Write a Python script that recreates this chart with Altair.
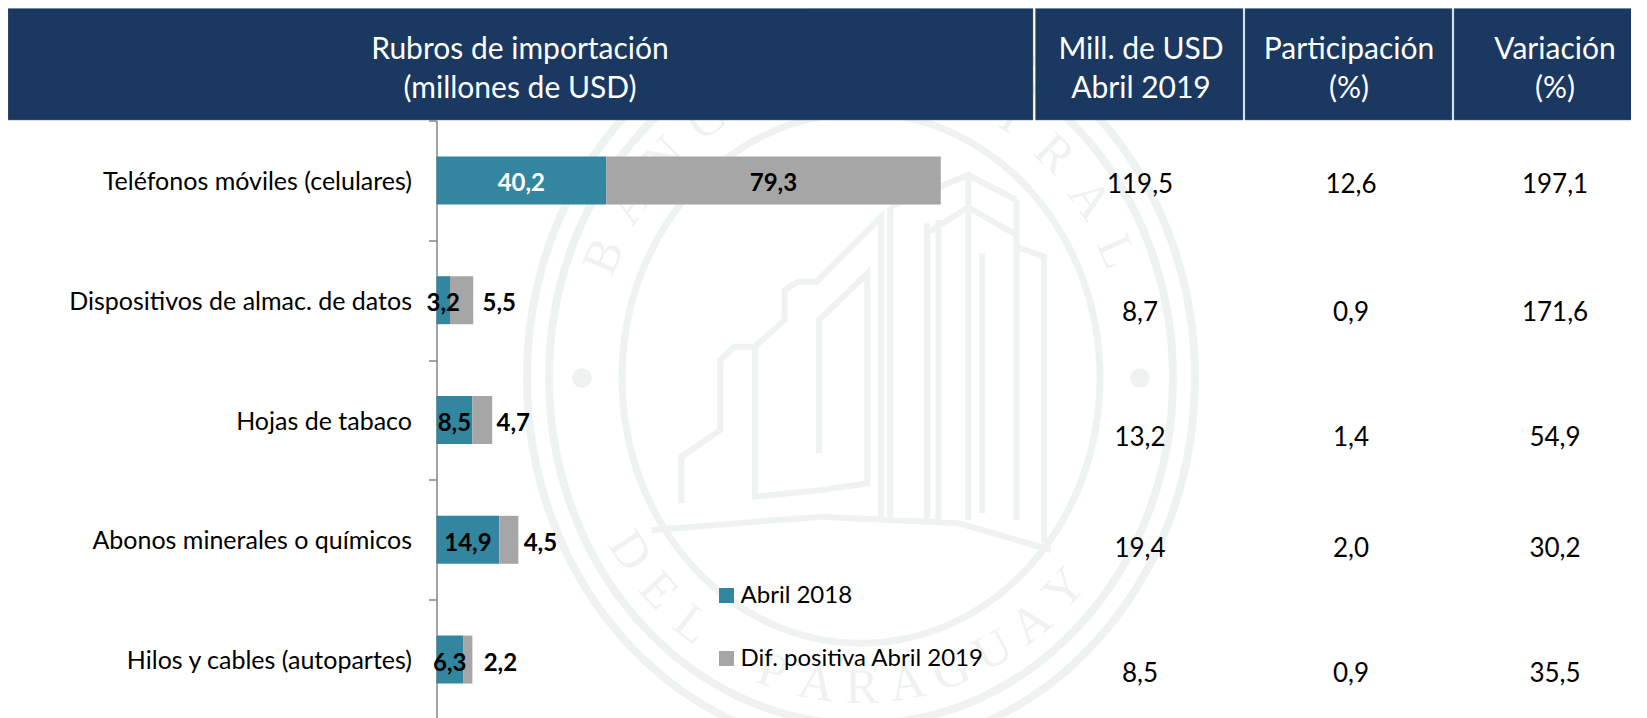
import math
import altair as alt
import pandas as pd

# ---------- values ----------
categories = ["Teléfonos móviles (celulares)", "Dispositivos de almac. de datos", "Hojas de tabaco",
              "Abonos minerales o químicos", "Hilos y cables (autopartes)"]
abril_2018 = [40.2, 3.2, 8.5, 14.9, 6.3]
dif_2019 = [79.3, 5.5, 4.7, 4.5, 2.2]
mill_usd = ["119,5", "8,7", "13,2", "19,4", "8,5"]
participacion = ["12,6", "0,9", "1,4", "2,0", "0,9"]
variacion = ["197,1", "171,6", "54,9", "30,2", "35,5"]
series_names = ["Abril 2018", "Dif. positiva Abril 2019"]
header_titles = [["Rubros de importación", "(millones de USD)"], ["Mill. de USD", "Abril 2019"],
                 ["Participación", "(%)"], ["Variación", "(%)"]]

# ---------- layout (page pixels) ----------
OX, OY = 436.5, 120.5
PX = lambda x: x - OX
PY = lambda y: y - OY
FONT = "Lato"
NAVY, TEAL, GREY = "#1A3860", "#33869F", "#A6A6A6"
WM = "#EEF3F1"
HEADER_EDGES = [(8, 1033), (1035.5, 1243), (1245, 1452), (1454, 1647)]
HEADER_CENTERS = [520, 1141, 1349, 1555]
TABLE_CENTERS = [1140, 1351, 1555]
TABLE_NUDGE = [5, 13, 18, 9, 14]
OUT_NUDGE = [0, 26, 21, 22, 28]
PX_PER_UNIT = 4.22
W, H = 1639 - OX, 718 - OY

rows = []
for c, a, d in zip(categories, abril_2018, dif_2019):
    rows.append(dict(cat=c, serie=series_names[0], start=0, end=a))
    rows.append(dict(cat=c, serie=series_names[1], start=a, end=a + d))
df = pd.DataFrame(rows)
fmt = lambda v: f"{v:.1f}".replace(".", ",")
lab = pd.DataFrame(dict(cat=categories, a=abril_2018, d=dif_2019))
lab["mid_a"] = lab.a / 2
lab["mid_d"] = lab.a + lab.d / 2
lab["total"] = lab.a + lab.d
lab["ta"] = lab.a.map(fmt)
lab["td"] = lab.d.map(fmt)

xs = alt.Scale(domain=[0, W / PX_PER_UNIT], range=[0, W], nice=False, zero=False)
ys = alt.Scale(domain=categories, range=[0, 599], paddingInner=0.6, paddingOuter=0.3)
X = lambda f: alt.X(f, type="quantitative", scale=xs, axis=None)
y_axis = alt.Axis(labelFont=FONT, labelFontSize=25, labelColor="black", labelPadding=17, tickOffset=-59.9,
                  labelOffset=60.9, tickSize=8, tickColor="#868686", tickWidth=1.5, domainColor="#868686",
                  domainWidth=1.5, grid=False, labelLimit=400, title=None)
Y_plain = alt.Y("cat:N", scale=ys, sort=categories, axis=y_axis, title=None)

# ---------- seal watermark ----------
CX, CY = 861, 378
def ell(a, k=1.11):
    b = a * k
    return f"M{-a},0A{a} {b} 0 1 1 {a},0A{a} {b} 0 1 1 {-a},0Z"
def z(x, y):
    return (500 + x / 2.178 - CX, 120 + y / 3 - CY)
def poly(*pts):
    return "M" + "L".join("%.1f,%.1f" % z(*p) for p in pts)
BASE = 1200
building = " ".join([
    poly((395, 1150), (395, 1010), (480, 930), (480, 720), (510, 680), (555, 680), (620, 600), (620, 510),
         (650, 485), (690, 485), (830, 290), (830, BASE)),
    poly((555, 680), (555, 1130), (700, 1110), (800, 1090), (800, 460), (695, 600), (695, 1000)),
    poly((850, 260), (850, BASE)), poly((930, 310), (930, BASE)), poly((955, 300), (955, BASE)),
    poly((850, 260), (1020, 165), (1125, 240)), poly((930, 340), (1020, 262), (1125, 345)),
    poly((1020, 165), (1020, BASE)), poly((1125, 240), (1125, BASE)),
    poly((1125, 380), (1185, 410), (1185, 1270)),
    poly((1050, 400), (1050, 1180)),
    poly((330, 1230), (700, 1190), (1000, 1210), (1200, 1290)),
])
blank = pd.DataFrame({"k": [0]})
layers = []
for a, sw in [(334, 8), (312, 8), (239, 7)]:
    layers.append(alt.Chart(blank).mark_point(shape=ell(a), size=4, filled=False, stroke=WM,
                  strokeWidth=sw, opacity=1).encode(x=alt.value(PX(CX)), y=alt.value(PY(CY))))
layers.append(alt.Chart(blank).mark_point(shape=building, size=4, filled=False, stroke=WM,
              strokeWidth=6, opacity=1).encode(x=alt.value(PX(CX)), y=alt.value(PY(CY))))
for dx in (-279, 279):
    layers.append(alt.Chart(blank).mark_point(shape="circle", size=380, filled=True, color=WM,
                  opacity=1).encode(x=alt.value(PX(CX + dx)), y=alt.value(PY(CY))))
def letter(ch, px, py, ang):
    return alt.Chart(blank).mark_text(text=ch, font="Liberation Serif", fontSize=50, color=WM, angle=ang % 360,
            align="center", baseline="middle").encode(x=alt.value(PX(px)), y=alt.value(PY(py)))
top_word, bot_word = "BANCO CENTRAL", "DEL PARAGUAY"
for i, ch in enumerate(top_word):
    t = -67 + i * 133 / (len(top_word) - 1)
    r = math.radians(t)
    if ch != " ":
        layers.append(letter(ch, CX + 279 * math.sin(r), CY - 310 * math.cos(r), t))
for i, ch in enumerate(bot_word):
    t = -56 + i * 103 / (len(bot_word) - 1)
    r = math.radians(t)
    if ch != " ":
        layers.append(letter(ch, CX + 279 * math.sin(r), CY + 310 * math.cos(r), -t))

# ---------- bars ----------
bars = alt.Chart(df).mark_bar(size=48).encode(
    x=X("start"), x2="end",
    y=Y_plain,
    color=alt.Color("serie:N", scale=alt.Scale(domain=series_names, range=[TEAL, GREY]), sort=series_names,
                    legend=alt.Legend(title=None, orient="none", legendX=278, legendY=463, symbolType="square",
                                      symbolSize=225, symbolStrokeWidth=0, labelFont=FONT, labelFontSize=24,
                                      labelColor="black", labelOffset=2, rowPadding=39, padding=0, labelLimit=400)),
)
layers.append(bars)

# ---------- header ----------
for (x0, x1), cx, lines in zip(HEADER_EDGES, HEADER_CENTERS, header_titles):
    layers.append(alt.Chart(blank).mark_rect(color=NAVY, stroke="#5E7898", strokeWidth=0.5).encode(
        x=alt.value(PX(x0)), x2=alt.value(PX(x1)), y=alt.value(PY(8.5)), y2=alt.value(PY(120))))
    for txt, yy in zip(lines, (50, 89)):
        layers.append(alt.Chart(blank).mark_text(text=txt, font=FONT, fontSize=30, color="white", align="center",
                      baseline="middle").encode(x=alt.value(PX(cx)), y=alt.value(PY(yy))))

# ---------- bar labels ----------
def bold(c="black"):
    return dict(font=FONT, fontSize=24, fontWeight="bold", color=c, align="center", baseline="middle", dy=4)
layers.append(alt.Chart(lab).mark_text(**bold()).transform_filter(alt.datum.a < 20).encode(x=X("mid_a"), y=Y_plain, text="ta:N"))
layers.append(alt.Chart(lab).mark_text(**bold("white")).transform_filter(alt.datum.a >= 20).encode(x=X("mid_a"), y=Y_plain, text="ta:N"))
layers.append(alt.Chart(lab.iloc[[0]]).mark_text(**bold()).encode(x=X("mid_d"), y=Y_plain, text="td:N"))
for i in range(1, 5):
    b = bold()
    b["dx"] = OUT_NUDGE[i]
    layers.append(alt.Chart(lab.iloc[[i]]).mark_text(**b).encode(x=X("total"), y=Y_plain, text="td:N"))

# ---------- table columns ----------
for cx, col in zip(TABLE_CENTERS, (mill_usd, participacion, variacion)):
    for i, v in enumerate(col):
        layers.append(alt.Chart(pd.DataFrame(dict(cat=[categories[i]], v=[v]))).mark_text(
            font=FONT, fontSize=26, color="black", align="center", baseline="middle", dy=TABLE_NUDGE[i]
        ).encode(x=alt.value(PX(cx)), y=Y_plain, text="v:N"))

chart = alt.layer(*layers).properties(
    width=W - 8, height=H,
    padding={"left": OX - 8, "top": OY - 8, "right": 0, "bottom": 0},
    autosize=alt.AutoSizeParams(type="none"),
    background="white",
).configure_view(stroke=None)

chart.save("out.html", embed_options={"renderer": "svg", "actions": False})
